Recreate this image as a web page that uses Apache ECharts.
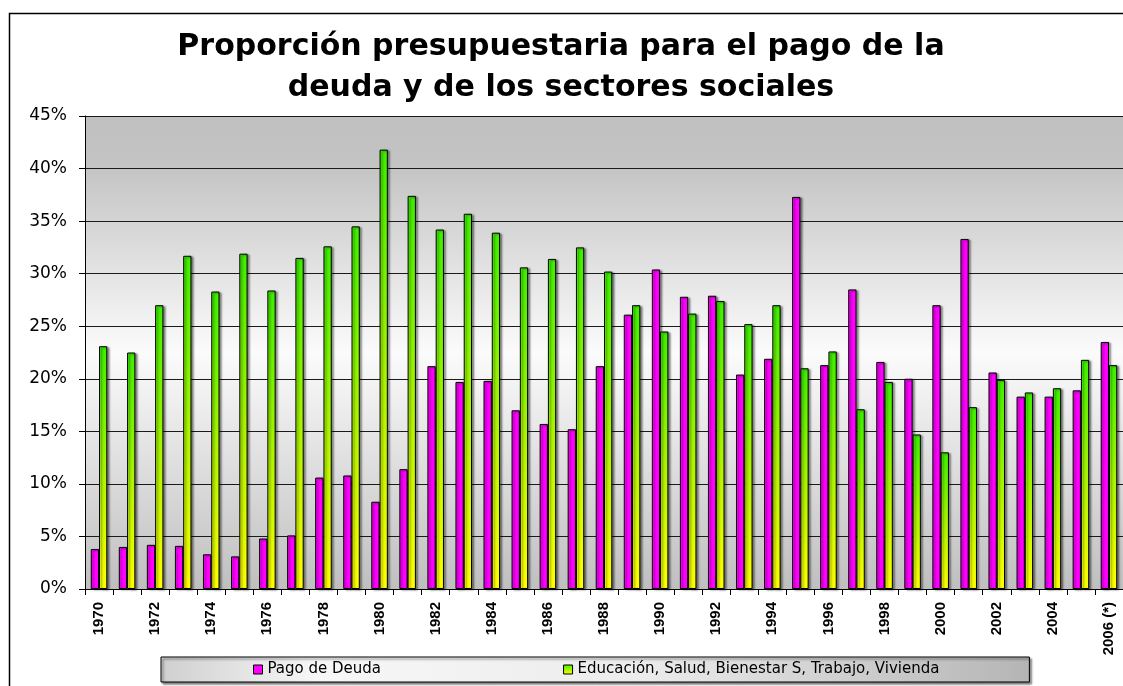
<!DOCTYPE html>
<html>
<head>
<meta charset="utf-8">
<script src="https://cdn.jsdelivr.net/npm/echarts@6/dist/echarts.min.js"></script>
<style>
html,body{margin:0;padding:0;background:#fff;}
#chart{width:1123px;height:686px;}
</style>
</head>
<body>
<div id="chart"></div>
<script>
var years = ['1970','1971','1972','1973','1974','1975','1976','1977','1978','1979',
  '1980','1981','1982','1983','1984','1985','1986','1987','1988','1989',
  '1990','1991','1992','1993','1994','1995','1996','1997','1998','1999',
  '2000','2001','2002','2003','2004','2005','2006 (*)'];
var pagoDeuda = [3.8,4.0,4.2,4.1,3.3,3.1,4.8,5.1,10.6,10.8,
  8.3,11.4,21.2,19.7,19.8,17.0,15.7,15.2,21.2,26.1,
  30.4,27.8,27.9,20.4,21.9,37.3,21.3,28.5,21.6,20.0,
  27.0,33.3,20.6,18.3,18.3,18.9,23.5];
var sectoresSociales = [23.1,22.5,27.0,31.7,28.3,31.9,28.4,31.5,32.6,34.5,
  41.8,37.4,34.2,35.7,33.9,30.6,31.4,32.5,30.2,27.0,
  24.5,26.2,27.4,25.2,27.0,21.0,22.6,17.1,19.7,14.7,
  13.0,17.3,19.9,18.7,19.1,21.8,21.3];
var seriesNames = ['Pago de Deuda','Educación, Salud, Bienestar S, Trabajo, Vivienda'];
var titleText = 'Proporción presupuestaria para el pago de la\ndeuda y de los sectores sociales';

var chart = echarts.init(document.getElementById('chart'), null, {renderer:'canvas'});
var shadow = {shadowColor:'rgba(0,0,0,0.45)', shadowBlur:2, shadowOffsetX:2, shadowOffsetY:1};
chart.setOption({
  animation:false,
  backgroundColor:'#ffffff',
  graphic:[{
    type:'rect', z:-10, silent:true,
    shape:{x:9.5, y:13.5, width:1200, height:800},
    style:{fill:'none', stroke:'#000', lineWidth:1.5}
  }],
  title:{
    text:titleText,
    left:556, top:22, textAlign:'center',
    textStyle:{fontFamily:'DejaVu Sans', fontWeight:'bold', fontSize:30, lineHeight:41, color:'#000'}
  },
  legend:{
    data:seriesNames,
    left:161, top:657,
    orient:'horizontal',
    icon:'rect',
    itemWidth:9, itemHeight:9, itemGap:182,
    padding:[5,90,5,92],
    backgroundColor:new echarts.graphic.LinearGradient(0,0,1,0,[
      {offset:0,color:'#cfcfcf'},{offset:0.18,color:'#f7f7f7'},{offset:0.55,color:'#ececec'},{offset:1,color:'#b5b5b5'}]),
    borderColor:'#000', borderWidth:1,
    shadowColor:'rgba(0,0,0,0.5)', shadowBlur:2, shadowOffsetX:2, shadowOffsetY:2,
    textStyle:{fontFamily:'DejaVu Sans', fontSize:15, color:'#000'},
    itemStyle:{borderColor:'#000', borderWidth:1}
  },
  grid:{
    left:85, right:-2, top:116, bottom:97,
    show:true, borderWidth:0,
    backgroundColor:new echarts.graphic.LinearGradient(0,0,0,1,[
      {offset:0,color:'#c0c0c0'},{offset:0.1,color:'#c3c3c3'},{offset:0.5,color:'#fbfbfb'},{offset:1,color:'#bfbfbf'}])
  },
  xAxis:{
    type:'category', data:years,
    boundaryGap:true,
    axisLine:{show:true, lineStyle:{color:'#000', width:1}},
    axisTick:{show:true, interval:0, length:6, lineStyle:{color:'#000'}},
    axisLabel:{interval:1, rotate:90, margin:13, fontFamily:'Liberation Sans', fontWeight:'bold', fontSize:15, color:'#000'},
    splitLine:{show:false}
  },
  yAxis:{
    type:'value', min:0, max:45, interval:5,
    axisLine:{show:true, lineStyle:{color:'#000', width:1}},
    axisTick:{show:true, length:6, lineStyle:{color:'#000'}},
    axisLabel:{formatter:'{value}%', margin:18, fontFamily:'DejaVu Sans', fontSize:17, color:'#000'},
    splitLine:{show:true, lineStyle:{color:'#1a1a1a', width:1.2}}
  },
  series:[{
    name:seriesNames[0], type:'bar', data:pagoDeuda,
    barWidth:'29.5%', barGap:'0%',
    itemStyle:Object.assign({color:'#ff00ff', borderColor:'#000', borderWidth:1}, shadow)
  },{
    name:seriesNames[1], type:'bar', data:sectoresSociales,
    barWidth:'29.5%', barGap:'0%',
    itemStyle:Object.assign({
      color:new echarts.graphic.LinearGradient(0,0,0,1,[{offset:0,color:'#3cf000'},{offset:0.5,color:'#a6f500'},{offset:1,color:'#ffff00'}]),
      borderColor:'#000', borderWidth:1}, shadow)
  }]
});
</script>
</body>
</html>
